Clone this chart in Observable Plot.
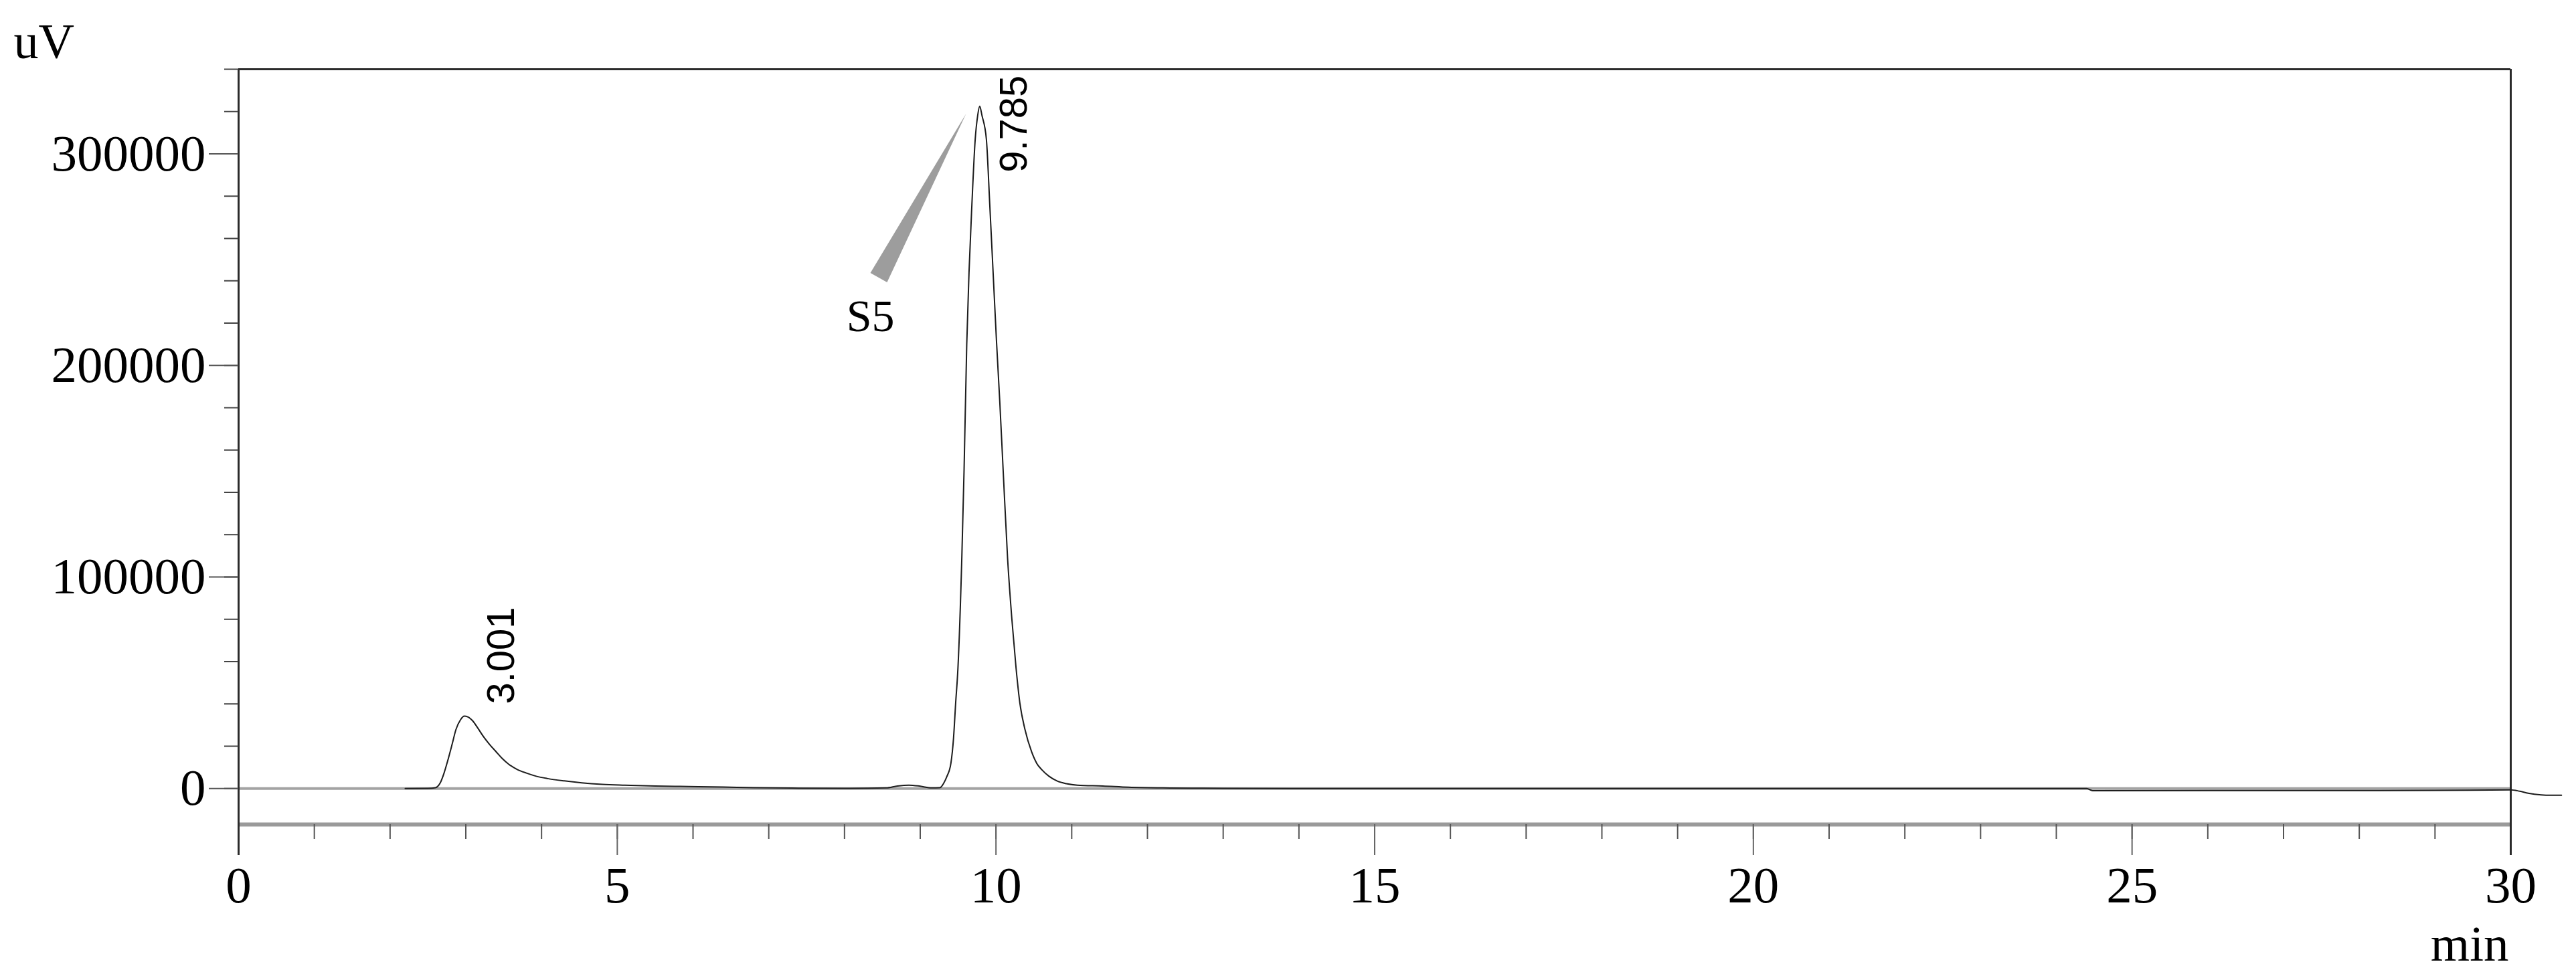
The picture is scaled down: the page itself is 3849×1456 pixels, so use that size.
<!DOCTYPE html>
<html>
<head>
<meta charset="utf-8">
<script src="https://cdn.jsdelivr.net/npm/d3@7"></script>
<script src="https://cdn.jsdelivr.net/npm/@observablehq/plot@0.6"></script>
<style>
  html, body { margin: 0; padding: 0; background: #ffffff; }
  #chart svg { display: block; }
</style>
</head>
<body>
<div id="chart"></div>
<script>
// ---- data ----
const times = [
  2.20, 2.50, 2.60, 2.66, 2.71, 2.76, 2.82, 2.87, 2.93, 2.98, 3.03, 3.09, 3.16, 3.23, 3.31, 3.40,
  3.48, 3.57, 3.68, 3.80, 3.93, 4.08, 4.30, 4.53, 4.80, 5.10, 5.50, 5.94, 6.40, 6.80, 7.30, 8.00,
  8.55, 8.70, 8.85, 9.00, 9.15, 9.26, 9.31, 9.352, 9.405, 9.44, 9.467, 9.498, 9.549, 9.579, 9.614,
  9.644, 9.682, 9.726, 9.758, 9.785, 9.816, 9.873, 9.918, 9.962, 10.006, 10.05, 10.094, 10.153,
  10.21, 10.265, 10.315, 10.383, 10.47, 10.54, 10.605, 10.70, 10.81, 10.93, 11.075, 11.41, 11.75,
  12.30, 13.00, 14.00, 24.40, 24.48, 29.00, 30.00, 30.12, 30.23, 30.40, 30.52, 30.67
];
const signal = [
  0, 100, 400, 2500, 7000, 13000, 21000, 27900, 32500, 34200, 33800, 32000, 28500, 24700, 21000, 17400,
  14200, 11400, 9000, 7300, 5800, 4700, 3600, 2700, 2000, 1600, 1200, 950, 700, 400, 200, 100,
  300, 1200, 1600, 1100, 300, 400, 2500, 5700, 12000, 24000, 40000, 57000, 109000, 151000, 210000,
  244000, 276000, 307000, 318000, 322500, 318000, 307000, 276000, 244000, 212000, 183000, 151000, 109000,
  80000, 57000, 40500, 27900, 17400, 11800, 8900, 5800, 3500, 2300, 1600, 1200, 600,
  250, 100, 0, 0, -1000, -900, -600, -1300, -2200, -3000, -3200, -3200
];

const peakTimes = [3.001, 9.785];
const peakHeights = [34200, 322500];

const calloutTimes = [9.605, 8.342, 8.562];
const calloutValues = [319000, 243700, 239300];
const compoundName = "S5";
const compoundTime = 8.342;
const compoundValue = 216200;

const xDomain = [0, 30];
const yDomain = [-17000, 340000];
const xMajorTicks = [0, 5, 10, 15, 20, 25, 30];
const xMinorTicks = [0,1,2,3,4,5,6,7,8,9,10,11,12,13,14,15,16,17,18,19,20,21,22,23,24,25,26,27,28,29,30];
const yMajorTicks = [0, 100000, 200000, 300000];
const yMinorTicks = [0, 20000, 40000, 60000, 80000, 100000, 120000, 140000, 160000, 180000, 200000,
  220000, 240000, 260000, 280000, 300000, 320000, 340000];
const yUnit = "uV";
const xUnit = "min";

// ---- tables built from the arrays ----
const trace = times.map((t, i) => ({t, v: signal[i]}));
const peaks = peakTimes.map((t, i) => ({t, v: peakHeights[i], label: t.toFixed(3)}));
const callout = calloutTimes.map((t, i) => ({t, v: calloutValues[i]}));
const compound = [{t: compoundTime, v: compoundValue, name: compoundName}];

const serif = "'Liberation Serif', 'Times New Roman', serif";
const sans = "'Liberation Sans', Arial, sans-serif";

const chart = Plot.plot({
  width: 3849,
  height: 1456,
  marginTop: 103,
  marginRight: 98,
  marginBottom: 224,
  marginLeft: 356,
  x: {domain: xDomain},
  y: {domain: yDomain},
  style: {fontFamily: serif, fontSize: "77px", color: "black", background: "white", overflow: "visible"},
  marks: [
    // baseline at zero
    Plot.ruleY([0], {stroke: "#a3a3a3", strokeWidth: 4}),
    // bottom axis line and top frame
    Plot.ruleY([yDomain[0]], {stroke: "#9a9a9a", strokeWidth: 6}),
    Plot.ruleY([yDomain[1]], {stroke: "#2b2b2b", strokeWidth: 3}),
    // x axis ticks
    Plot.axisX({ticks: xMinorTicks, tickSize: 22, tickFormat: () => "", stroke: "#555", strokeWidth: 2, label: null}),
    Plot.axisX({ticks: xMajorTicks, tickSize: 46, tickPadding: 16, fontSize: 77, fontFamily: serif,
      stroke: "#666", strokeWidth: 2, fill: "black", label: null}),
    // left / right frame lines extending below the axis
    Plot.ruleX([xDomain[0], xDomain[1]], {stroke: "#2b2b2b", strokeWidth: 3, insetBottom: -46}),
    // y axis ticks
    Plot.axisY({ticks: yMinorTicks, tickSize: 21, tickFormat: () => "", stroke: "#444", strokeWidth: 2, label: null}),
    Plot.axisY({ticks: yMajorTicks, tickSize: 44, tickPadding: 5, tickFormat: d3.format("d"), fontSize: 77,
      fontFamily: serif, stroke: "#555", strokeWidth: 2, fill: "black", label: null}),
    // chromatogram trace
    Plot.line(trace, {x: "t", y: "v", stroke: "#1c1c1c", strokeWidth: 2, curve: "monotone-x"}),
    // compound callout wedge and name
    Plot.line(callout, {x: "t", y: "v", fill: "#9d9d9d", stroke: "none"}),
    Plot.text(compound, {x: "t", y: "v", text: "name", fontSize: 68, fontFamily: serif,
      textAnchor: "middle", lineAnchor: "bottom", fill: "black"}),
    // retention time labels
    Plot.text(peaks.slice(0, 1), {x: "t", y: "v", text: "label", rotate: -90, textAnchor: "start",
      lineAnchor: "bottom", dx: 72, dy: -18, fontSize: 58, fontFamily: sans, fill: "black"}),
    Plot.text(peaks.slice(1, 2), {x: "t", y: "v", text: "label", rotate: -90, textAnchor: "start",
      lineAnchor: "bottom", dx: 70, dy: 99, fontSize: 58, fontFamily: sans, fill: "black"}),
    // unit labels
    Plot.text([yUnit], {frameAnchor: "top-left", text: d => d, dx: -336, dy: -17, textAnchor: "start",
      lineAnchor: "bottom", fontSize: 74, fontFamily: serif, fill: "black"}),
    Plot.text([xUnit], {frameAnchor: "bottom-right", text: d => d, dx: -3, dy: 203, textAnchor: "end",
      lineAnchor: "bottom", fontSize: 75, fontFamily: serif, fill: "black"})
  ]
});

document.getElementById("chart").appendChild(chart);
</script>
</body>
</html>
